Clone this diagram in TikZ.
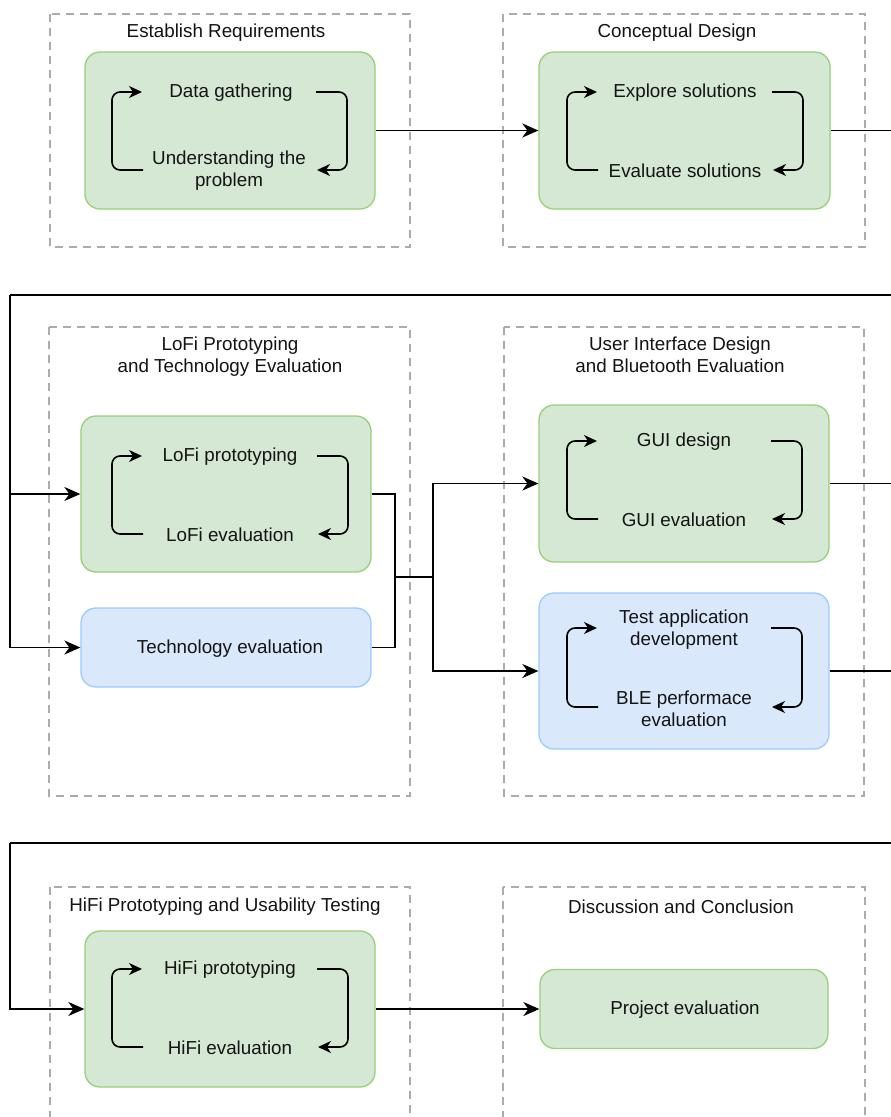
\documentclass[tikz,border=0pt]{standalone}
\usepackage{fontspec}
\setmainfont{Liberation Sans}
\usetikzlibrary{arrows.meta}
\definecolor{gfill}{HTML}{D5E8D4}
\definecolor{gline}{HTML}{97D077}
\definecolor{bfill}{HTML}{DAE8FC}
\definecolor{bline}{HTML}{99CCFF}
\definecolor{dline}{HTML}{ABABAB}
\definecolor{txt}{HTML}{141414}
\tikzset{
  gbox/.style={draw=gline, fill=gfill, line width=1.3pt, rounded corners=15pt, minimum width=290pt, inner sep=0pt},
  bbox/.style={draw=bline, fill=bfill, line width=1.3pt, rounded corners=15pt, minimum width=290pt, inner sep=0pt},
  container/.style={draw=dline, line width=2.3pt, dash pattern=on 8pt off 6pt},
  lbl/.style={text=txt, align=center, font=\fontsize{18.8}{22}\selectfont, inner sep=0pt},
  conn/.style={draw=black, line width=1.7pt},
  arr/.style={conn, -{Stealth[length=16pt, width=14pt, inset=5pt]}},
  looparr/.style={draw=black, line width=1.6pt, rounded corners=8pt, -{Stealth[length=13pt, width=12pt, inset=4pt]}}
}
\newcommand{\cycloop}[4]{%
  \draw[looparr] (#1+31,#4) -- (#1,#4) -- (#1,#3) -- (#1+30,#3);
  \draw[looparr] (#2-31,#3) -- (#2,#3) -- (#2,#4) -- (#2-30,#4);
}
\begin{document}
\begin{tikzpicture}[x=1pt, y=-1pt]
\useasboundingbox (0,0) rectangle (891,1117);
\clip (0,0) rectangle (891,1117);
\fill[white] (0,0) rectangle (891,1117);

% containers
\draw[container] (50,14) rectangle (410,247);
\draw[container] (503,14) rectangle (865,247);
\draw[container] (49,327) rectangle (410,796);
\draw[container] (504,327) rectangle (864,796);
\draw[container] (50,887) rectangle (410,1135);
\draw[container] (503,887) rectangle (865,1135);

% container titles
\node[lbl] (t1) at (226,33) {Establish Requirements};
\node[lbl] (t2) at (677,33) {Conceptual Design};
\node[lbl] (t3) at (230,357) {LoFi Prototyping\\and Technology Evaluation};
\node[lbl] (t4) at (680,355) {User Interface Design\\and Bluetooth Evaluation};
\node[lbl] (t5) at (225,907) {HiFi Prototyping and Usability Testing};
\node[lbl] (t6) at (681,907) {Discussion and Conclusion};

% boxes
\node[gbox, minimum height=157pt] (g1) at (230,130.5) {};
\node[gbox, minimum width=291pt, minimum height=157pt] (g2) at (684.5,130.5) {};
\node[gbox, minimum height=156pt] (g3) at (226,494) {};
\node[bbox, minimum height=79pt] (b1) at (226,647.5) {};
\node[gbox, minimum height=157pt] (g4) at (684,483.5) {};
\node[bbox, minimum height=156pt] (b2) at (684,671) {};
\node[gbox, minimum height=156pt] (g5) at (230,1009) {};
\node[gbox, minimum width=288pt, minimum height=79pt] (g6) at (684,1009) {};

% inner labels
\node[lbl] (a1) at (231,93) {Data gathering};
\node[lbl] (a2) at (229,171) {Understanding the\\problem};
\node[lbl] (c1) at (685,93) {Explore solutions};
\node[lbl] (c2) at (685,171) {Evaluate solutions};
\node[lbl] (l1) at (230,457) {LoFi prototyping};
\node[lbl] (l2) at (230,535) {LoFi evaluation};
\node[lbl] (te) at (230,649) {Technology evaluation};
\node[lbl] (u1) at (684,442) {GUI design};
\node[lbl] (u2) at (684,520) {GUI evaluation};
\node[lbl] (p1) at (684,630) {Test application\\development};
\node[lbl] (p2) at (684,709) {BLE performace\\evaluation};
\node[lbl] (h1) at (230,970) {HiFi prototyping};
\node[lbl] (h2) at (230,1048) {HiFi evaluation};
\node[lbl] (pe) at (685,1010) {Project evaluation};

% cycle loops
\cycloop{112}{347}{92}{170}
\cycloop{567}{803}{92}{170}
\cycloop{112}{348}{456}{534}
\cycloop{567}{802}{441}{519}
\cycloop{567}{802}{628}{707}
\cycloop{112}{348}{969}{1047}

% connectors
\coordinate (r1) at (895,130.5);
\coordinate (r2) at (895,295);
\coordinate (k1) at (10,295);
\coordinate (j1) at (395,577);
\coordinate (j2) at (433,577);
\coordinate (r3) at (895,483.5);
\coordinate (r4) at (895,671);
\coordinate (r5) at (895,843);
\coordinate (k2) at (10,843);

\draw[arr] (g1.east) -- (g2.west);
\draw[conn] (g2.east) -- (r1);
\draw[conn] (r2) -- (k1);
\draw[arr] (k1) |- (g3.west);
\draw[arr] (k1) |- (b1.west);
\draw[conn] (g3.east) -| (j1);
\draw[conn] (b1.east) -| (j1);
\draw[conn] (j1) -- (j2);
\draw[arr] (j2) |- (g4.west);
\draw[arr] (j2) |- (b2.west);
\draw[conn] (g4.east) -- (r3);
\draw[conn] (b2.east) -- (r4);
\draw[conn] (r5) -- (k2);
\draw[arr] (k2) |- (g5.west);
\draw[arr] (g5.east) -- (g6.west);
\end{tikzpicture}
\end{document}
